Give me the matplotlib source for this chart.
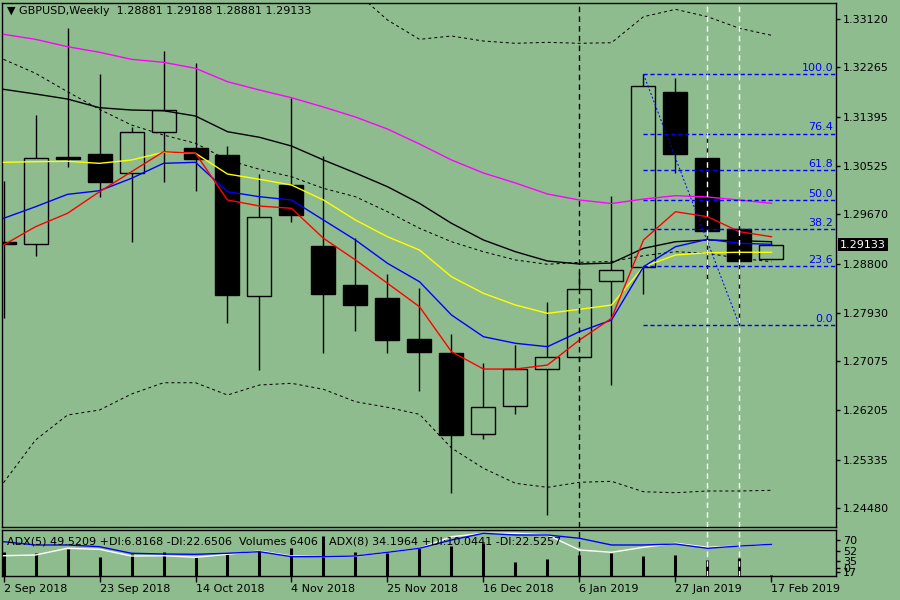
import numpy as np
import matplotlib
matplotlib.use("Agg")
import matplotlib.pyplot as plt
import matplotlib.transforms as mtransforms

# weekly GBPUSD candles
dates = ["2 Sep 2018", "23 Sep 2018", "14 Oct 2018", "4 Nov 2018", "25 Nov 2018",
         "16 Dec 2018", "6 Jan 2019", "27 Jan 2019", "17 Feb 2019"]
opens = [1.29180, 1.29139, 1.30682, 1.30730, 1.30394, 1.31118, 1.30836, 1.30717, 1.28221,
         1.30187, 1.29109, 1.28420, 1.28191, 1.27466, 1.27219, 1.25783, 1.26277, 1.26931,
         1.27143, 1.28486, 1.28744, 1.31830, 1.30664, 1.29404, 1.28881]
highs = [1.30258, 1.31424, 1.32956, 1.32148, 1.31207, 1.32555, 1.32337, 1.30876, 1.30381,
         1.31730, 1.30699, 1.29245, 1.28615, 1.28373, 1.27555, 1.27048, 1.27366, 1.28120,
         1.28645, 1.29993, 1.32143, 1.32078, 1.31023, 1.29569, 1.29188]
lows = [1.27837, 1.28938, 1.30510, 1.29980, 1.29185, 1.30245, 1.30086, 1.27744, 1.26918,
        1.29539, 1.27214, 1.27613, 1.27224, 1.26553, 1.24740, 1.25705, 1.26136, 1.24357,
        1.27080, 1.26654, 1.28261, 1.30404, 1.28509, 1.27708, 1.28881]
closes = [1.29140, 1.30659, 1.30655, 1.30245, 1.31118, 1.31507, 1.30641, 1.28244, 1.29616,
          1.29662, 1.28261, 1.28072, 1.27454, 1.27242, 1.25775, 1.26260, 1.26936, 1.27143,
          1.28344, 1.28680, 1.31936, 1.30740, 1.29380, 1.28839, 1.29133]

# moving averages
ma_magenta = [1.32850, 1.32761, 1.32631, 1.32532, 1.32408, 1.32355, 1.32249, 1.32012, 1.31865,
              1.31729, 1.31565, 1.31388, 1.31176, 1.30911, 1.30629, 1.30399, 1.30222, 1.30028,
              1.29922, 1.29860, 1.29939, 1.29998, 1.29975, 1.29922, 1.29863]
ma_black = [1.31878, 1.31795, 1.31706, 1.31553, 1.31512, 1.31500, 1.31406, 1.31129, 1.31030,
            1.30876, 1.30629, 1.30399, 1.30157, 1.29863, 1.29510, 1.29215, 1.29008, 1.28844,
            1.28791, 1.28808, 1.29068, 1.29185, 1.29215, 1.29203, 1.29185]
bb_mid = [1.32408, 1.32161, 1.31835, 1.31524, 1.31247, 1.31070, 1.30924, 1.30629, 1.30464,
          1.30333, 1.30128, 1.29980, 1.29715, 1.29422, 1.29185, 1.29008, 1.28862, 1.28786,
          1.28821, 1.28835, 1.28938, 1.29008, 1.28980, 1.28892, 1.28832]
bb_up = [1.39890, 1.38641, 1.37547, 1.36837, 1.36000, 1.35447, 1.35155, 1.34782, 1.34275,
         1.33983, 1.33679, 1.33602, 1.33102, 1.32761, 1.32820, 1.32731, 1.32691, 1.32708,
         1.32691, 1.32701, 1.33161, 1.33291, 1.33161, 1.32956, 1.32832]
bb_low = [1.24926, 1.25681, 1.26123, 1.26211, 1.26494, 1.26693, 1.26693, 1.26476, 1.26653,
          1.26683, 1.26577, 1.26358, 1.26259, 1.26135, 1.25540, 1.25181, 1.24916, 1.24845,
          1.24934, 1.24951, 1.24767, 1.24750, 1.24780, 1.24780, 1.24792]
ma_yellow = [1.30588, 1.30599, 1.30606, 1.30570, 1.30629, 1.30765, 1.30747, 1.30381, 1.30288,
             1.30187, 1.29922, 1.29568, 1.29273, 1.29038, 1.28566, 1.28273, 1.28066, 1.27920,
             1.27990, 1.28066, 1.28743, 1.28950, 1.28990, 1.28998, 1.28998]
ma_blue = [1.29598, 1.29803, 1.30022, 1.30086, 1.30305, 1.30570, 1.30588, 1.30068, 1.29980,
           1.29922, 1.29568, 1.29215, 1.28803, 1.28478, 1.27890, 1.27506, 1.27390, 1.27330,
           1.27595, 1.27801, 1.28743, 1.29097, 1.29227, 1.29157, 1.29139]
ma_red = [1.29127, 1.29450, 1.29687, 1.30068, 1.30422, 1.30775, 1.30747, 1.29922, 1.29816,
          1.29775, 1.29245, 1.28862, 1.28450, 1.28036, 1.27241, 1.26935, 1.26935, 1.27006,
          1.27448, 1.27831, 1.29215, 1.29715, 1.29627, 1.29362, 1.29273]

# lower panel: ADX lines and volumes
adx_blue = [67.2, 61.8, 61.8, 59.0, 48.2, 47.0, 46.5, 48.2, 50.8, 42.6, 42.6, 43.7, 49.8,
            56.4, 70.0, 81.0, 78.2, 78.2, 72.8, 61.8, 61.8, 63.4, 56.4, 60.1, 62.9]
adx_white = [44.2, 45.4, 56.4, 54.7, 43.7, 44.2, 41.6, 46.5, 51.9, 43.7, 42.6, 43.2, 49.8,
             56.4, 75.4, 81.0, 81.0, 78.2, 53.6, 49.8, 58.0, 64.6, 58.0, 60.1, 62.9]
volumes = [155500, 149100, 172800, 123500, 138900, 153600, 121600, 142700, 164500, 177300,
           256000, 153600, 145300, 181100, 192000, 213100, 89600, 110700, 132500, 149100,
           128000, 134400, 102400, 117100, 6406]

price_ticks = [1.33120, 1.32265, 1.31395, 1.30525, 1.29670, 1.28800, 1.27930, 1.27075,
               1.26205, 1.25335, 1.24480]
ind_ticks = [70, 52, 35, 24.5, 17]
ind_labels = ["70", "52", "35", "0", "17"]

fib_levels = [0.0, 23.6, 38.2, 50.0, 61.8, 76.4, 100.0]
fib_hi, fib_lo = 1.32143, 1.27708
last_price = 1.29133

bg = "#8FBC8F"
px = 0.72  # one pixel in points

n = len(opens)
x = np.arange(n)

fig = plt.figure(figsize=(9, 6), dpi=100, facecolor=bg)
ax = fig.add_axes([2 / 900, 1 - 527 / 600, 834 / 900, 524 / 600], facecolor=bg)
axi = fig.add_axes([2 / 900, 1 - 576 / 600, 834 / 900, 46 / 600], facecolor=bg)

for a in (ax, axi):
    a.set_xlim(-0.047, 26.016)
    for s in a.spines.values():
        s.set_color("black")
        s.set_linewidth(1.0)

ax.set_ylim(1.24144, 1.33403)

# candles
ax.vlines(x, lows, highs, color="black", lw=1.0, zorder=2)
o = np.array(opens)
c = np.array(closes)
bull = c >= o
ax.bar(x, np.abs(c - o), bottom=np.minimum(o, c), width=0.75,
       color=np.where(bull, bg, "black"), edgecolor="black", linewidth=1.0, zorder=3)

# bands and averages
dot = (0, (3, 3))
ax.plot(x, bb_up, color="black", lw=px, ls=dot, zorder=4)
ax.plot(x, bb_low, color="black", lw=px, ls=dot, zorder=4)
ax.plot(x, bb_mid, color="black", lw=px, ls=dot, zorder=4)
ax.plot(x, ma_magenta, color="#FF00FF", lw=1.0, zorder=5)
ax.plot(x, ma_black, color="black", lw=1.0, zorder=5)
ax.plot(x, ma_yellow, color="#FFFF00", lw=1.0, zorder=5)
ax.plot(x, ma_blue, color="#0000FF", lw=1.0, zorder=5)
ax.plot(x, ma_red, color="#FF0000", lw=1.0, zorder=5)

# fibonacci retracement
for lv in fib_levels:
    p = fib_lo + (fib_hi - fib_lo) * lv / 100
    ax.plot([20, 26.1], [p, p], color="#0000FF", lw=1.0, ls=(0, (3, 2)), zorder=6)
    ax.text(25.93, p + 0.0002, "%.1f" % lv, color="#0000FF", fontsize=8,
            ha="right", va="bottom", zorder=7)
ax.plot([20, 23], [fib_hi, fib_lo], color="#0000FF", lw=px, ls=(0, (2, 2)), zorder=6)

# separators
for a in (ax, axi):
    a.axvline(18, color="black", lw=1.0, ls=(0, (4, 3)), zorder=8)
    a.axvline(22, color="white", lw=1.0, ls=(0, (4, 3)), zorder=8)
    a.axvline(23, color="white", lw=1.0, ls=(0, (4, 3)), zorder=8)

# price axis
ax.set_xticks([])
ax.yaxis.tick_right()
ax.set_yticks(price_ticks)
ax.set_yticklabels(["%.5f" % t for t in price_ticks])
ax.tick_params(axis="y", length=3, width=1, pad=2, labelsize=8, colors="black")

tr = mtransforms.blended_transform_factory(ax.transAxes, ax.transData)
ax.text(1.0 + 4 / 834, last_price, "%.5f" % last_price, transform=tr, fontsize=8,
        color="white", ha="left", va="center",
        bbox=dict(facecolor="black", edgecolor="none", pad=1.2))

# lower panel
axi.set_ylim(10.9, 86.4)
axv = axi.twinx()
axv.set_ylim(0, 294400)
axv.set_xlim(-0.047, 26.016)
axv.vlines(x, 0, volumes, color="black", lw=2.2, zorder=2)
axv.set_yticks([])
for s in axv.spines.values():
    s.set_visible(False)
axi.set_zorder(axv.get_zorder() + 1)
axi.patch.set_visible(False)
axi.plot(x, adx_white, color="white", lw=1.0, zorder=3)
axi.plot(x, adx_blue, color="#0000FF", lw=1.0, zorder=4)

axi.yaxis.tick_right()
axi.set_yticks(ind_ticks)
axi.set_yticklabels(ind_labels)
axi.tick_params(axis="y", length=3, width=1, pad=2, labelsize=8)
axi.set_xticks(x[::3])
axi.set_xticklabels(dates, ha="left")
axi.tick_params(axis="x", length=4, width=1, pad=1.5, labelsize=8)

fig.text(7 / 900, 1 - 541 / 600,
         "ADX(5) 49.5209 +DI:6.8168 -DI:22.6506  Volumes 6406",
         fontsize=8, va="center", ha="left")
fig.text(329 / 900, 1 - 541 / 600,
         "ADX(8) 34.1964 +DI:10.0441 -DI:22.5257",
         fontsize=8, va="center", ha="left")

fig.text(7 / 900, 1 - 11 / 600,
         "\u25BC GBPUSD,Weekly  1.28881 1.29188 1.28881 1.29133",
         fontsize=8, va="center", ha="left")

fig.savefig("out.png", dpi=100, facecolor=bg)
